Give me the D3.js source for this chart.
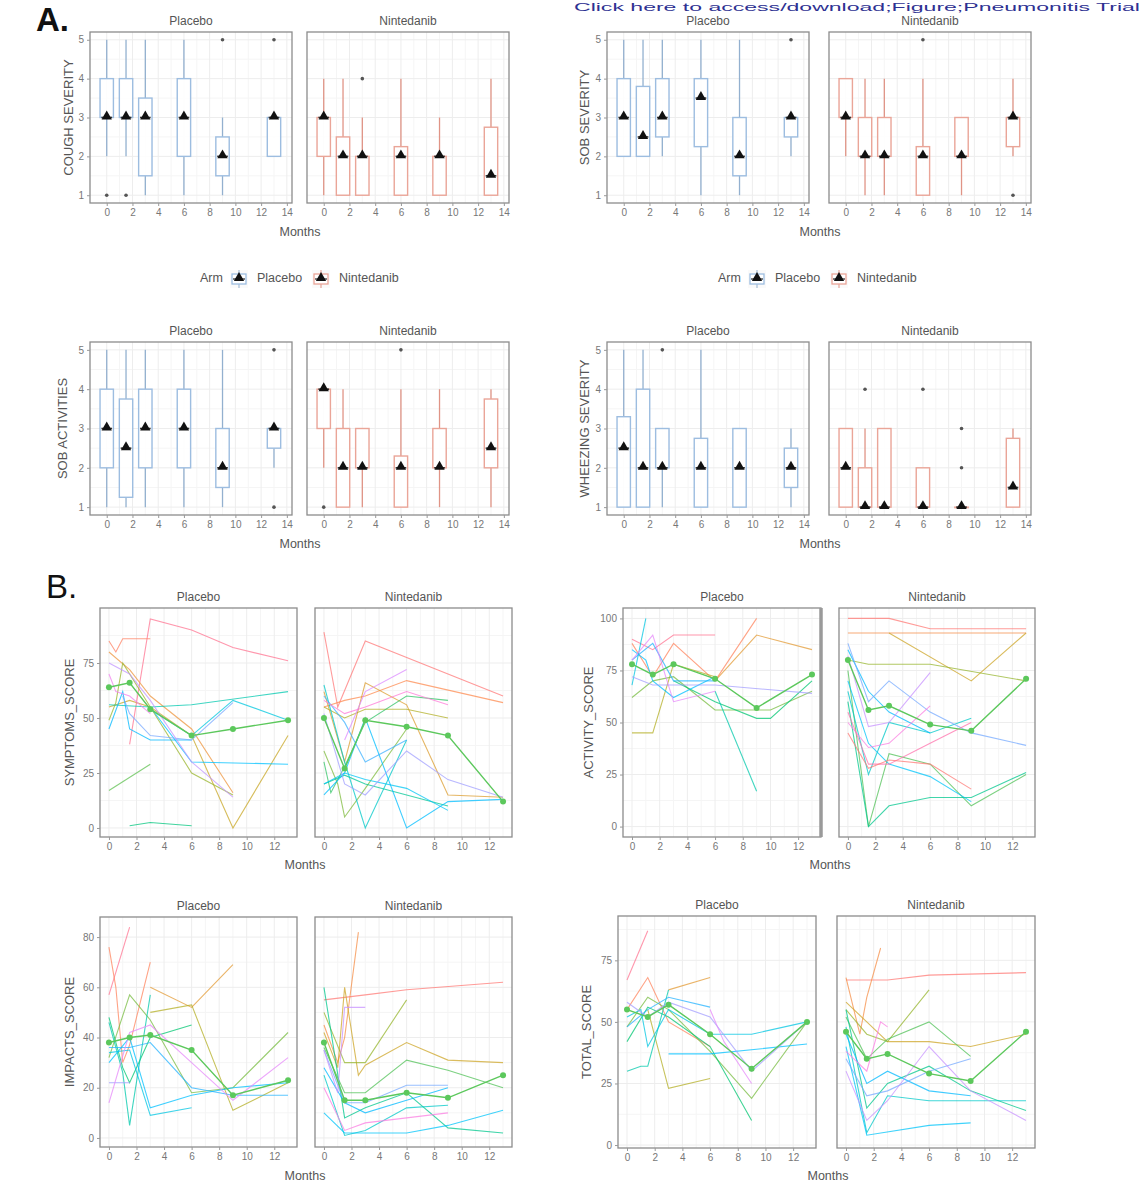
<!DOCTYPE html>
<html><head><meta charset="utf-8">
<script src="https://cdn.jsdelivr.net/npm/d3@7"></script>
<style>body{margin:0;background:#fff} svg{display:block}</style>
</head><body><svg id="c" width="1146" height="1200"></svg>
<script>
// ---------------- DATA ----------------
const armLabels = ["Placebo", "Nintedanib"];
const boxMonths = [0, 1.5, 3, 6, 9, 13];
const boxXTicks = [0, 2, 4, 6, 8, 10, 12, 14];
const boxYTicks = [1, 2, 3, 4, 5];
// [lowerWhisker, q1, median, q3, upperWhisker] per month
const coughPlacebo = [[2,3,3,4,5],[2,3,3,4,5],[1,1.5,3,3.5,5],[1,2,3,4,5],[1,1.5,2,2.5,3],[2,2,3,3,3]];
const coughPlaceboOut = [[1],[1],[],[],[5],[5]];
const coughNintedanib = [[1,2,3,3,4],[1,1,2,2.5,4],[1,1,2,2,3],[1,1,2,2.25,4],[1,1,2,2,3],[1,1,1.5,2.75,4]];
const coughNintedanibOut = [[],[],[4],[],[],[]];
const sobSevPlacebo = [[2,2,3,4,5],[2,2,2.5,3.8,5],[2,2.5,3,4,5],[1,2.25,3.5,4,5],[1,1.5,2,3,5],[2,2.5,3,3,3]];
const sobSevPlaceboOut = [[],[],[],[],[],[5]];
const sobSevNintedanib = [[2,3,3,4,4],[1,2,2,3,4],[1,2,2,3,4],[1,1,2,2.25,4],[1,2,2,3,3],[2,2.25,3,3,4]];
const sobSevNintedanibOut = [[],[],[],[5],[],[1]];
const sobActPlacebo = [[1,2,3,4,5],[1,1.25,2.5,3.75,5],[1,2,3,4,5],[1,2,3,4,5],[1,1.5,2,3,5],[2,2.5,3,3,3]];
const sobActPlaceboOut = [[],[],[],[],[],[5,1]];
const sobActNintedanib = [[2,3,4,4,4],[1,1,2,3,4],[1,2,2,3,3],[1,1,2,2.3,4],[1,2,2,3,4],[1,2,2.5,3.75,4]];
const sobActNintedanibOut = [[1],[],[],[5],[],[]];
const wheezePlacebo = [[1,1,2.5,3.3,5],[1,1,2,4,5],[1,2,2,3,3],[1,1,2,2.75,5],[1,1,2,3,3],[1,1.5,2,2.5,3]];
const wheezePlaceboOut = [[],[],[5],[],[],[]];
const wheezeNintedanib = [[1,1,2,3,3],[1,1,1,2,3],[1,1,1,3,3],[1,1,1,2,2],[1,1,1,1,1],[1,1,1.5,2.75,3]];
const wheezeNintedanibOut = [[],[4],[],[4],[2,3],[]];

const lineXTicks = [0, 2, 4, 6, 8, 10, 12];
const symptomsYTicks = [0, 25, 50, 75];
const activityYTicks = [0, 25, 50, 75, 100];
const impactsYTicks = [0, 20, 40, 60, 80];
const totalYTicks = [0, 25, 50, 75];

// per-patient trajectories [month, score]
const symptomsPlacebo = [
  [[1.5,38],[3,95],[6,90],[9,82],[13,76]],
  [[0,85],[0.5,80],[1,86],[3,86]],
  [[0,80],[1.5,72],[3,60],[6,45],[9,16]],
  [[0,55],[1.5,58],[3,55],[6,42],[9,0],[13,42]],
  [[0,49],[0.5,57],[1,75],[3,55],[6,25],[9,15]],
  [[0,17],[3,29]],
  [[1.5,1],[3,2.5],[6,1]],
  [[0,56],[3,55],[6,56],[13,62]],
  [[3,54],[6,42],[9,58],[13,49]],
  [[3,55],[6,30],[13,29]],
  [[0,45],[1,62],[1.5,45],[3,40],[6,40]],
  [[1,60],[1.5,52],[3,42],[6,40],[9,57]],
  [[0,75],[1.5,70],[3,58],[6,30],[9,14]],
  [[0,70],[0.5,62],[1.5,60],[3,52]]
];
const symptomsPlaceboMean = [[0,64],[1.5,66],[3,54],[6,42],[9,45],[13,49]];
const symptomsNintedanib = [
  [[0,89],[1,55],[3,85],[13,60]],
  [[0,55],[1.5,58],[3,60],[6,67],[13,57]],
  [[0,62],[1.5,30],[3,66],[6,56],[9,15],[13,14]],
  [[0,55],[1.5,50],[3,54],[6,54],[9,50]],
  [[0,35],[1,20],[1.5,5],[3,18],[6,45]],
  [[0,30],[0.5,16],[1.5,28],[3,48],[6,60],[9,58]],
  [[0,20],[1.5,24],[3,20],[9,10]],
  [[0,65],[1.5,30],[3,0],[6,40]],
  [[0,20],[1.5,25],[3,22],[6,18],[9,8]],
  [[0,15],[1.5,25],[3,50],[6,0],[9,12],[13,13]],
  [[0,60],[1.5,48],[3,30],[6,40]],
  [[0,52],[1.5,20],[3,15],[6,35],[9,22],[13,14]],
  [[1.5,40],[3,62],[6,72]],
  [[0,58],[1.5,52],[3,55],[6,62],[9,56]]
];
const symptomsNintedanibMean = [[0,50],[1.5,27],[3,49],[6,46],[9,42],[13,12]];
const activityPlacebo = [
  [[0,90],[1.5,85],[3,92],[6,92]],
  [[0,88],[1.5,72],[3,88],[6,70],[9,100]],
  [[6,70],[9,92],[13,85]],
  [[0,45],[1.5,45],[3,78],[6,72]],
  [[0,62],[1.5,70],[3,72],[6,56],[9,56],[10,56],[13,65]],
  [[3,70],[6,60],[9,52],[10,52],[13,70]],
  [[6,65],[9,17]],
  [[0,68],[1,100]],
  [[0,85],[1,80],[1.5,70],[3,62],[6,72]],
  [[0,80],[1.5,88],[3,70],[6,70]],
  [[0,72],[1.5,68],[3,68],[6,68],[13,64]],
  [[0,80],[1.5,92],[3,60],[6,65]]
];
const activityPlaceboMean = [[0,78],[1.5,73],[3,78],[6,71],[9,57],[13,73]];
const activityNintedanib = [
  [[0,100],[3,100],[6,95],[13,95]],
  [[0,93],[13,93]],
  [[3,93],[9,70],[13,93]],
  [[0,80],[1.5,78],[6,78],[13,70]],
  [[0,75],[1.5,0],[3,35],[6,30],[9,10],[13,25]],
  [[0,60],[1.5,0],[3,10],[6,14],[9,14],[13,26]],
  [[0,65],[1.5,25],[3,50],[6,45],[9,52]],
  [[0,70],[1.5,40],[3,30],[6,24],[9,12]],
  [[0,85],[1.5,65],[3,55],[6,45]],
  [[0,88],[1.5,60],[3,70],[6,55],[9,45],[13,39]],
  [[0,82],[1.5,48],[3,50],[6,74]],
  [[0,50],[1.5,38],[3,40],[6,58]],
  [[0,55],[1.5,30],[3,30],[6,40],[9,50]],
  [[0,45],[1.5,28],[3,32],[6,30],[9,18]]
];
const activityNintedanibMean = [[0,80],[1.5,56],[3,58],[6,49],[9,46],[13,71]];
const impactsPlacebo = [
  [[0,57],[1.5,84]],
  [[0,76],[0.5,60],[1,30],[1.5,37],[3,70]],
  [[3,60],[6,52],[9,69]],
  [[3,50],[6,53],[9,11],[13,22]],
  [[0,32],[1.5,57],[3,47],[6,18],[9,20],[13,42]],
  [[0,48],[1,28],[1.5,22],[3,40],[6,45]],
  [[0,46],[1,26],[1.5,5],[3,57]],
  [[0,34],[1.5,35],[3,9],[6,12]],
  [[0,30],[1.5,40],[3,12],[6,17],[9,20],[13,22]],
  [[0,36],[1.5,36],[3,38],[6,20],[9,17],[13,17]],
  [[0,22],[1.5,22]],
  [[0,14],[1.5,42],[3,45],[6,30],[9,15],[13,32]]
];
const impactsPlaceboMean = [[0,38],[1.5,40],[3,41],[6,35],[9,17],[13,23]];
const impactsNintedanib = [
  [[0,55],[1.5,56],[3,57],[6,59],[13,62]],
  [[0,45],[1,30],[1.5,40],[2.5,82]],
  [[0,42],[1,28],[1.5,60],[2.5,25],[3,29],[6,38],[9,31],[13,30]],
  [[0,50],[1.5,30],[3,30],[6,55]],
  [[0,36],[1.5,18],[3,18],[6,31],[9,27],[13,20]],
  [[0,60],[1.5,8],[3,12],[6,18],[9,4],[13,2]],
  [[0,25],[1.5,1],[3,3],[6,12],[9,13]],
  [[0,10],[1.5,2],[6,2],[9,5],[13,11]],
  [[0,28],[1.5,14],[3,10],[6,15],[9,20]],
  [[0,35],[1.5,14],[3,14],[6,21],[9,21]],
  [[0,35],[1,18],[1.5,52],[3,52]],
  [[0,20],[1.5,3],[3,6],[6,8],[9,10]]
];
const impactsNintedanibMean = [[0,38],[1.5,15],[3,15],[6,18],[9,16],[13,25]];
const totalPlacebo = [
  [[0,67],[1.5,87]],
  [[0,55],[1.5,68],[3,50],[6,40]],
  [[3,63],[6,68]],
  [[1.5,55],[3,23],[6,27]],
  [[0,48],[1.5,60],[3,55],[6,38],[9,19],[13,50]],
  [[0,42],[1.5,56],[3,52],[6,40],[9,10]],
  [[0,30],[1,32],[1.5,32],[3,63]],
  [[0,52],[1,55],[1.5,40],[3,55],[6,45],[9,45],[13,50]],
  [[3,37],[6,37],[13,41]],
  [[0,48],[1.5,55],[3,60],[6,56]],
  [[0,58],[1.5,52],[3,58],[6,52],[9,30],[13,50]],
  [[6,55],[7,42],[9,25]]
];
const totalPlaceboMean = [[0,55],[1.5,52],[3,57],[6,45],[9,31],[13,50]];
const totalNintedanib = [
  [[0,67],[3,67],[6,69],[13,70]],
  [[0,68],[1,45],[1.5,60],[2.5,80]],
  [[0,58],[1.5,50],[3,42],[6,42],[9,40],[13,45]],
  [[0,55],[1.5,45],[3,42],[6,63]],
  [[0,52],[1.5,35],[3,43],[6,50],[9,36]],
  [[0,55],[1.5,15],[3,25],[6,32],[9,22],[13,14]],
  [[0,48],[1.5,5],[3,20],[6,18],[9,18],[13,18]],
  [[0,40],[1.5,4],[6,8],[9,9]],
  [[0,45],[1.5,25],[3,30],[6,22],[9,20]],
  [[0,35],[1.5,20],[3,22],[6,30],[9,35]],
  [[0,30],[1.5,10],[3,18],[6,40],[9,22],[13,10]],
  [[0,38],[1.5,30],[2.5,50],[3,48]]
];
const totalNintedanibMean = [[0,46],[1.5,35],[3,37],[6,29],[9,26],[13,46]];

// ---------------- DRAWING ----------------
const FONT = '"Liberation Sans", Arial, sans-serif';
const svg = d3.select("#c").style("font-family", FONT);
const armColor = ["#9dbde0", "#eaa598"];
const armWhisker = ["#93b0cf", "#e09486"];
const meanColor = "#5cc85c";

function panel(o, content) {
  const g = svg.append("g").attr("transform", `translate(${o.x0},${o.y0})`);
  const xs = d3.scaleLinear().domain(o.xd).range([0, o.w]);
  const ys = d3.scaleLinear().domain(o.yd).range([o.h, 0]);
  const xMinor = d3.range(o.xt[0] + o.xstep / 2, o.xd[1], o.xstep).filter(v => v > o.xd[0]);
  const yMinor = o.yt.slice(0, -1).map((v, i) => (v + o.yt[i + 1]) / 2).concat([o.yt[o.yt.length - 1] + (o.yt[1] - o.yt[0]) / 2]).filter(v => v < o.yd[1]);
  g.selectAll(null).data(xMinor).join("line").attr("x1", d => xs(d)).attr("x2", d => xs(d)).attr("y1", 0).attr("y2", o.h).attr("stroke", "#f5f5f5");
  g.selectAll(null).data(yMinor).join("line").attr("y1", d => ys(d)).attr("y2", d => ys(d)).attr("x1", 0).attr("x2", o.w).attr("stroke", "#f5f5f5");
  g.selectAll(null).data(o.xt).join("line").attr("x1", d => xs(d)).attr("x2", d => xs(d)).attr("y1", 0).attr("y2", o.h).attr("stroke", "#ededed");
  g.selectAll(null).data(o.yt).join("line").attr("y1", d => ys(d)).attr("y2", d => ys(d)).attr("x1", 0).attr("x2", o.w).attr("stroke", "#ededed");
  content(g, xs, ys);
  g.append("rect").attr("width", o.w).attr("height", o.h).attr("fill", "none").attr("stroke", "#8c8c8c").attr("stroke-width", 1.3);
  if (o.thickRight) g.append("line").attr("x1", o.w).attr("x2", o.w).attr("y1", 0).attr("y2", o.h).attr("stroke", "#9a9a9a").attr("stroke-width", 3.5);
  const xa = g.append("g").attr("transform", `translate(0,${o.h})`)
    .call(d3.axisBottom(xs).tickValues(o.xt).tickFormat(d3.format("d")).tickSize(3).tickPadding(3));
  styleAxis(xa);
  if (o.showY) {
    const ya = g.append("g").call(d3.axisLeft(ys).tickValues(o.yt).tickFormat(d3.format("d")).tickSize(3).tickPadding(3));
    styleAxis(ya);
  }
  g.append("text").attr("x", o.w / 2).attr("y", -7).attr("text-anchor", "middle")
    .attr("font-size", 12).attr("fill", "#555").text(o.strip);
  return g;
}
function styleAxis(a) {
  a.select(".domain").remove();
  a.selectAll(".tick line").attr("stroke", "#999");
  a.selectAll(".tick text").attr("font-size", 10).attr("fill", "#777").attr("font-family", FONT);
}
function yTitle(x, y, t) {
  svg.append("text").attr("transform", `translate(${x},${y}) rotate(-90)`).attr("text-anchor", "middle")
    .attr("dominant-baseline", "middle").attr("font-size", 13).attr("fill", "#555").text(t);
}
function xTitle(x, y, t) {
  svg.append("text").attr("x", x).attr("y", y).attr("text-anchor", "middle").attr("dominant-baseline", "middle")
    .attr("font-size", 12.5).attr("fill", "#555").text(t);
}

const tri = d3.symbol(d3.symbolTriangle).size(46);
function boxContent(stats, outs, arm) {
  return (g, xs, ys) => {
    const bw = xs(0.52) - xs(0);
    stats.forEach((s, i) => {
      const cx = xs(boxMonths[i]);
      const [lo, q1, md, q3, hi] = s;
      g.append("line").attr("x1", cx).attr("x2", cx).attr("y1", ys(lo)).attr("y2", ys(q1)).attr("stroke", armWhisker[arm]).attr("stroke-width", 1.3);
      g.append("line").attr("x1", cx).attr("x2", cx).attr("y1", ys(q3)).attr("y2", ys(hi)).attr("stroke", armWhisker[arm]).attr("stroke-width", 1.3);
      g.append("rect").attr("x", cx - bw).attr("width", 2 * bw).attr("y", ys(q3)).attr("height", Math.max(0.5, ys(q1) - ys(q3)))
        .attr("fill", "#fff").attr("fill-opacity", 0.85).attr("stroke", armColor[arm]).attr("stroke-width", 1.4);
      g.append("line").attr("x1", cx - bw * 0.8).attr("x2", cx + bw * 0.8).attr("y1", ys(md)).attr("y2", ys(md)).attr("stroke", "#333").attr("stroke-width", 1.6);
      g.append("path").attr("d", tri).attr("transform", `translate(${cx},${ys(md) - 1})`).attr("fill", "#111");
      outs[i].forEach(v => g.append("circle").attr("cx", cx).attr("cy", ys(v)).attr("r", 1.8).attr("fill", "#555"));
    });
  };
}
function lineContent(patients, mean, offset, nTotal) {
  return (g, xs, ys) => {
    const line = d3.line().x(d => xs(d[0])).y(d => ys(d[1]));
    patients.forEach((p, i) => {
      const h = (15 + 360 * (i * 2 + offset) / nTotal) % 360;
      g.append("path").attr("d", line(p)).attr("fill", "none").attr("stroke", d3.hcl(h, 65, 70).formatHex())
        .attr("stroke-width", 1.1).attr("stroke-opacity", 0.75);
    });
    g.append("path").attr("d", line(mean)).attr("fill", "none").attr("stroke", meanColor).attr("stroke-width", 1.4);
    g.selectAll(null).data(mean).join("circle").attr("cx", d => xs(d[0])).attr("cy", d => ys(d[1])).attr("r", 3).attr("fill", meanColor);
  };
}

// header text (squeezed into the top strip, as in the source page)
svg.append("text").attr("x", 574).attr("y", 10.5).attr("font-size", 11).attr("fill", "#2e3192")
  .attr("textLength", 566).attr("lengthAdjust", "spacingAndGlyphs")
  .text("Click here to access/download;Figure;Pneumonitis Trial");
svg.append("text").attr("x", 36).attr("y", 31).attr("font-size", 33).attr("font-weight", "bold").attr("fill", "#111").text("A.");
svg.append("text").attr("x", 46).attr("y", 598).attr("font-size", 33).attr("fill", "#111").text("B.");

// ---- Section A ----
const aX = [-1.3, 14.4], aY = [0.8, 5.2];
function boxPair(xL, xR, y0, h, sP, oP, sN, oN, ytitle, ytx, xtitleX, xtitleY) {
  panel({x0: xL, y0, w: 202, h, xd: aX, yd: aY, xt: boxXTicks, yt: boxYTicks, xstep: 2, showY: true, strip: armLabels[0]}, boxContent(sP, oP, 0));
  panel({x0: xR, y0, w: 202, h, xd: aX, yd: aY, xt: boxXTicks, yt: boxYTicks, xstep: 2, showY: false, strip: armLabels[1]}, boxContent(sN, oN, 1));
  yTitle(ytx, y0 + h / 2, ytitle);
  xTitle(xtitleX, xtitleY, "Months");
}
boxPair(90, 307, 32, 171, coughPlacebo, coughPlaceboOut, coughNintedanib, coughNintedanibOut, "COUGH SEVERITY", 70, 300, 233);
boxPair(607, 829, 32, 171, sobSevPlacebo, sobSevPlaceboOut, sobSevNintedanib, sobSevNintedanibOut, "SOB SEVERITY", 586, 820, 233);
boxPair(90, 307, 342, 173, sobActPlacebo, sobActPlaceboOut, sobActNintedanib, sobActNintedanibOut, "SOB ACTIVITIES", 64, 300, 545);
boxPair(607, 829, 342, 173, wheezePlacebo, wheezePlaceboOut, wheezeNintedanib, wheezeNintedanibOut, "WHEEZING SEVERITY", 586, 820, 545);

// legends
function legend(x, y) {
  const g = svg.append("g").attr("transform", `translate(${x},${y})`);
  g.append("text").attr("x", 0).attr("y", 0).attr("dominant-baseline", "middle").attr("font-size", 12.5).attr("fill", "#555").text("Arm");
  [[30, 0], [112, 1]].forEach(([kx, arm]) => {
    const k = g.append("g").attr("transform", `translate(${kx},0)`);
    k.append("rect").attr("x", 0).attr("y", -9).attr("width", 18).attr("height", 18).attr("fill", "#fafafa");
    k.append("line").attr("x1", 9).attr("x2", 9).attr("y1", -9).attr("y2", 9).attr("stroke", armWhisker[arm]);
    k.append("rect").attr("x", 2).attr("y", -5).attr("width", 14).attr("height", 10).attr("fill", "#fff").attr("stroke", armColor[arm]).attr("stroke-width", 1.3);
    k.append("line").attr("x1", 3).attr("x2", 15).attr("y1", 0).attr("y2", 0).attr("stroke", "#333").attr("stroke-width", 1.3);
    k.append("path").attr("d", tri).attr("transform", "translate(9,-1)").attr("fill", "#111");
    k.append("text").attr("x", 27).attr("y", 0).attr("dominant-baseline", "middle").attr("font-size", 12.5).attr("fill", "#555").text(armLabels[arm]);
  });
}
legend(200, 279);
legend(718, 279);

// ---- Section B ----
const bX = [-0.65, 13.65];
function linePair(cfg) {
  const nTot = cfg.p.length * 2 + 2;
  panel({x0: cfg.xL, y0: cfg.y0, w: cfg.wL, h: cfg.h, xd: bX, yd: cfg.yd, xt: lineXTicks, yt: cfg.yt, xstep: 2, showY: true, strip: armLabels[0], thickRight: cfg.thick},
    lineContent(cfg.p, cfg.pm, 0, nTot));
  panel({x0: cfg.xR, y0: cfg.y0, w: cfg.wR, h: cfg.h, xd: bX, yd: cfg.yd, xt: lineXTicks, yt: cfg.yt, xstep: 2, showY: false, strip: armLabels[1]},
    lineContent(cfg.n, cfg.nm, 1, nTot));
  yTitle(cfg.ytx, cfg.y0 + cfg.h / 2, cfg.title);
  xTitle(cfg.mx, cfg.my, "Months");
}
linePair({xL: 100, xR: 315, wL: 197, wR: 197, y0: 608, h: 229, yd: [-4.1, 100], yt: symptomsYTicks,
  p: symptomsPlacebo, pm: symptomsPlaceboMean, n: symptomsNintedanib, nm: symptomsNintedanibMean,
  title: "SYMPTOMS_SCORE", ytx: 71, mx: 305, my: 866});
linePair({xL: 623, xR: 839, wL: 198, wR: 196, y0: 608, h: 229, yd: [-5, 105], yt: activityYTicks, thick: true,
  p: activityPlacebo, pm: activityPlaceboMean, n: activityNintedanib, nm: activityNintedanibMean,
  title: "ACTIVITY_SCORE", ytx: 590, mx: 830, my: 866});
linePair({xL: 100, xR: 315, wL: 197, wR: 197, y0: 917, h: 230, yd: [-3.6, 88], yt: impactsYTicks,
  p: impactsPlacebo, pm: impactsPlaceboMean, n: impactsNintedanib, nm: impactsNintedanibMean,
  title: "IMPACTS_SCORE", ytx: 71, mx: 305, my: 1177});
linePair({xL: 618, xR: 837, wL: 198, wR: 198, y0: 916, h: 232, yd: [-1.2, 93], yt: totalYTicks,
  p: totalPlacebo, pm: totalPlaceboMean, n: totalNintedanib, nm: totalNintedanibMean,
  title: "TOTAL_SCORE", ytx: 588, mx: 828, my: 1177});
</script></body></html>
